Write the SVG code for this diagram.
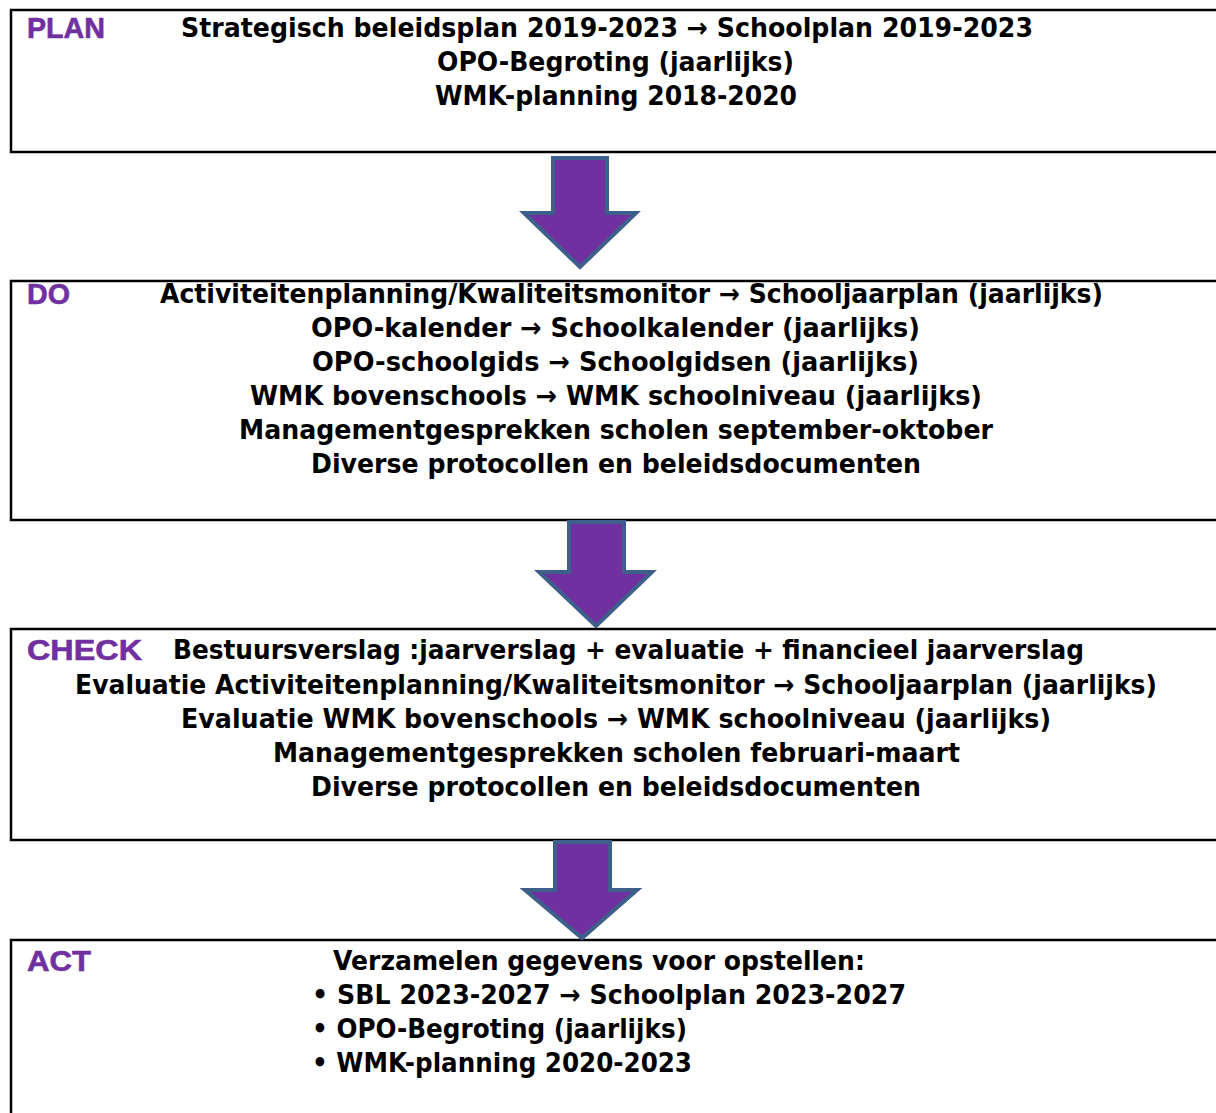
<svg xmlns="http://www.w3.org/2000/svg" width="1216" height="1113" viewBox="0 0 1216 1113">
<style>
.box{fill:#fff;stroke:#000;stroke-width:2.5}
.t{font-family:"DejaVu Sans","Liberation Sans",Arial,sans-serif;font-weight:bold;font-size:27px;fill:#000}
.lbl{font-family:"Liberation Sans",Arial,sans-serif;font-weight:bold;font-size:29px;fill:#7030A0;stroke:#7030A0;stroke-width:0.6}
.arr{fill:#7030A0;stroke:#3E5F8A;stroke-width:4;stroke-linejoin:miter}
</style>
<rect width="1216" height="1113" fill="#fff"/>
<g id="plan">
<rect class="box" x="11" y="10" width="1220" height="142"/>
<text class="lbl" x="27" y="38" textLength="78" lengthAdjust="spacingAndGlyphs">PLAN</text>
<text class="t" x="181" y="37" textLength="852" lengthAdjust="spacingAndGlyphs">Strategisch beleidsplan 2019-2023 → Schoolplan 2019-2023</text>
<text class="t" x="437" y="71" textLength="357" lengthAdjust="spacingAndGlyphs">OPO-Begroting (jaarlijks)</text>
<text class="t" x="435" y="105" textLength="362" lengthAdjust="spacingAndGlyphs">WMK-planning 2018-2020</text>
</g>
<g id="do">
<rect class="box" x="11" y="281" width="1220" height="239"/>
<text class="lbl" x="27" y="304" textLength="43" lengthAdjust="spacingAndGlyphs">DO</text>
<text class="t" x="160" y="303" textLength="943" lengthAdjust="spacingAndGlyphs">Activiteitenplanning/Kwaliteitsmonitor → Schooljaarplan (jaarlijks)</text>
<text class="t" x="311" y="337" textLength="609" lengthAdjust="spacingAndGlyphs">OPO-kalender → Schoolkalender (jaarlijks)</text>
<text class="t" x="312" y="371" textLength="607" lengthAdjust="spacingAndGlyphs">OPO-schoolgids → Schoolgidsen (jaarlijks)</text>
<text class="t" x="250" y="405" textLength="732" lengthAdjust="spacingAndGlyphs">WMK bovenschools → WMK schoolniveau (jaarlijks)</text>
<text class="t" x="239" y="439" textLength="754" lengthAdjust="spacingAndGlyphs">Managementgesprekken scholen september-oktober</text>
<text class="t" x="311" y="473" textLength="610" lengthAdjust="spacingAndGlyphs">Diverse protocollen en beleidsdocumenten</text>
</g>
<g id="check">
<rect class="box" x="11" y="629" width="1220" height="211"/>
<text class="lbl" x="27" y="660" textLength="115" lengthAdjust="spacingAndGlyphs">CHECK</text>
<text class="t" x="173" y="659" textLength="911" lengthAdjust="spacingAndGlyphs">Bestuursverslag :jaarverslag + evaluatie + financieel jaarverslag</text>
<text class="t" x="75" y="694" textLength="1082" lengthAdjust="spacingAndGlyphs">Evaluatie Activiteitenplanning/Kwaliteitsmonitor → Schooljaarplan (jaarlijks)</text>
<text class="t" x="181" y="728" textLength="870" lengthAdjust="spacingAndGlyphs">Evaluatie WMK bovenschools → WMK schoolniveau (jaarlijks)</text>
<text class="t" x="273" y="762" textLength="687" lengthAdjust="spacingAndGlyphs">Managementgesprekken scholen februari-maart</text>
<text class="t" x="311" y="796" textLength="610" lengthAdjust="spacingAndGlyphs">Diverse protocollen en beleidsdocumenten</text>
</g>
<g id="act">
<rect class="box" x="11" y="940" width="1220" height="200"/>
<text class="lbl" x="27" y="971" textLength="64" lengthAdjust="spacingAndGlyphs">ACT</text>
<text class="t" x="333" y="970" textLength="532" lengthAdjust="spacingAndGlyphs">Verzamelen gegevens voor opstellen:</text>
<text class="t" x="312" y="1004" textLength="594" lengthAdjust="spacingAndGlyphs">• SBL 2023-2027 → Schoolplan 2023-2027</text>
<text class="t" x="312" y="1038" textLength="375" lengthAdjust="spacingAndGlyphs">• OPO-Begroting (jaarlijks)</text>
<text class="t" x="312" y="1072" textLength="380" lengthAdjust="spacingAndGlyphs">• WMK-planning 2020-2023</text>
</g>
<g id="connectors">
<polygon class="arr" points="553,158 607,158 607,213 636,213 580,267 524,213 553,213"/>
<polygon class="arr" points="569,522 624,522 624,572 652,572 596,626 539,572 569,572"/>
<polygon class="arr" points="555,842 610,842 610,890 637,890 582,938 525,890 555,890"/>
</g>
</svg>
